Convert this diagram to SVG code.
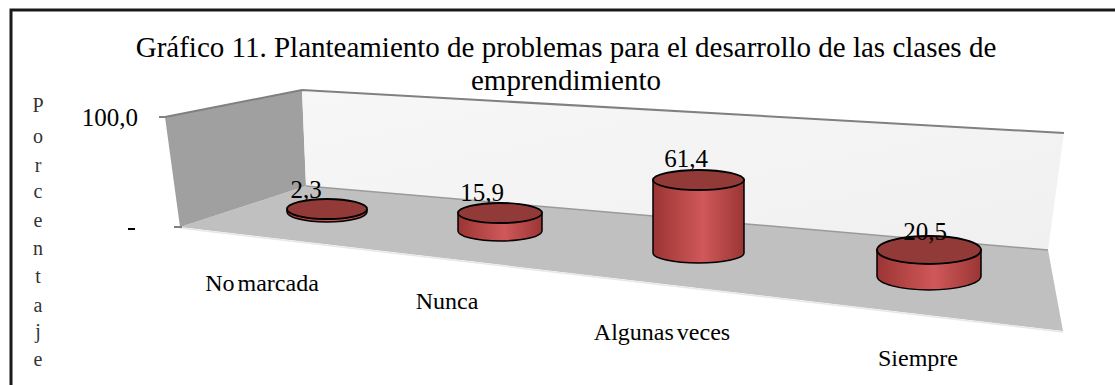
<svg xmlns="http://www.w3.org/2000/svg" width="1115" height="385" viewBox="0 0 1115 385">
<style>
.side{fill:url(#cyl);stroke:#000;stroke-width:1.5}
.top{fill:#913a38;stroke:#000;stroke-width:1.8}
.edge{fill:none;stroke:#808080;stroke-width:2}
</style>
<defs>
<linearGradient id="cyl" x1="0" y1="0" x2="1" y2="0">
<stop offset="0" stop-color="#9b3533"/>
<stop offset="0.55" stop-color="#d0585a"/>
<stop offset="1" stop-color="#9a3634"/>
</linearGradient>
<linearGradient id="wall" x1="0" y1="0" x2="1" y2="1">
<stop offset="0" stop-color="#f7f7f7"/>
<stop offset="1" stop-color="#f0f0f0"/>
</linearGradient>
</defs>
<rect x="0" y="0" width="1115" height="385" fill="#fff"/>
<path d="M11 385 V10 H1115" fill="none" stroke="#1a1a1a" stroke-width="3"/>
<g id="title">
<text font-family="Liberation Serif" font-size="29" x="566" y="57" text-anchor="middle">Gráfico 11. Planteamiento de problemas para el desarrollo de las clases de</text>
<text font-family="Liberation Serif" font-size="29" x="566" y="90" text-anchor="middle">emprendimiento</text>
</g>
<g id="plot-area">
<polygon points="306,186 1048,250 1063,331 180,227" fill="#c0c0c0"/>
<line x1="180" y1="228" x2="1063" y2="332" stroke="#e8e8e8" stroke-width="1.5"/>
<polygon points="165,117 302,90 306,186 180,227" fill="#a0a0a0"/>
<polygon points="302,90 1064,133 1048,250 306,186" fill="url(#wall)"/>
<polyline class="edge" points="159,117 165,117 302,90 1064,133"/>
<line x1="306" y1="186" x2="1048" y2="250" stroke="#9a9a9a" stroke-width="1.5"/>
<line x1="174" y1="227" x2="182" y2="227" stroke="#808080" stroke-width="2"/>
</g>
<g id="axis">
<text font-family="Liberation Serif" font-size="25" text-anchor="end" x="138" y="126">100,0</text>
<line x1="128" y1="229" x2="135" y2="229" stroke="#000" stroke-width="2"/>
<g id="ylabel" fill="#333" font-family="Liberation Serif" font-size="20" text-anchor="middle">
<text font-family="Liberation Serif" x="38" y="112">P</text>
<text font-family="Liberation Serif" x="38" y="143">o</text>
<text font-family="Liberation Serif" x="38" y="172">r</text>
<text font-family="Liberation Serif" x="38" y="198">c</text>
<text font-family="Liberation Serif" x="38" y="227">e</text>
<text font-family="Liberation Serif" x="38" y="255">n</text>
<text font-family="Liberation Serif" x="38" y="283">t</text>
<text font-family="Liberation Serif" x="38" y="312">a</text>
<text font-family="Liberation Serif" x="38" y="338">j</text>
<text font-family="Liberation Serif" x="38" y="366">e</text>
</g>
</g>
<g id="bar-no-marcada">
<path class="side" d="M287 209 A40 10 0 0 0 367 209 V212 A40 10 0 0 1 287 212 Z"/>
<ellipse class="top" cx="327" cy="209" rx="40" ry="10"/>
<text font-family="Liberation Serif" font-size="25" text-anchor="middle" x="306" y="198">2,3</text>
<text font-family="Liberation Serif" font-size="24" text-anchor="middle" word-spacing="-3" x="262" y="291">No marcada</text>
</g>
<g id="bar-nunca">
<path class="side" d="M458 213 V231 A42 10 0 0 0 542 231 V213 Z"/>
<ellipse class="top" cx="500" cy="213" rx="42" ry="10"/>
<text font-family="Liberation Serif" font-size="25" text-anchor="middle" x="482" y="201">15,9</text>
<text font-family="Liberation Serif" font-size="24" text-anchor="middle" x="447" y="309">Nunca</text>
</g>
<g id="bar-algunas-veces">
<path class="side" d="M653 180 V253 A45.5 10 0 0 0 744 253 V180 Z"/>
<ellipse class="top" cx="698.5" cy="180" rx="45.5" ry="10"/>
<text font-family="Liberation Serif" font-size="25" text-anchor="middle" x="686" y="167">61,4</text>
<text font-family="Liberation Serif" font-size="24" text-anchor="middle" word-spacing="-3" x="662" y="340">Algunas veces</text>
</g>
<g id="bar-siempre">
<path class="side" d="M877 250 V276 A52 14 0 0 0 981 276 V250 Z"/>
<ellipse class="top" cx="929" cy="250" rx="52" ry="14"/>
<text font-family="Liberation Serif" font-size="25" text-anchor="middle" x="925" y="240">20,5</text>
<text font-family="Liberation Serif" font-size="24" text-anchor="middle" x="918" y="366">Siempre</text>
</g>
</svg>
